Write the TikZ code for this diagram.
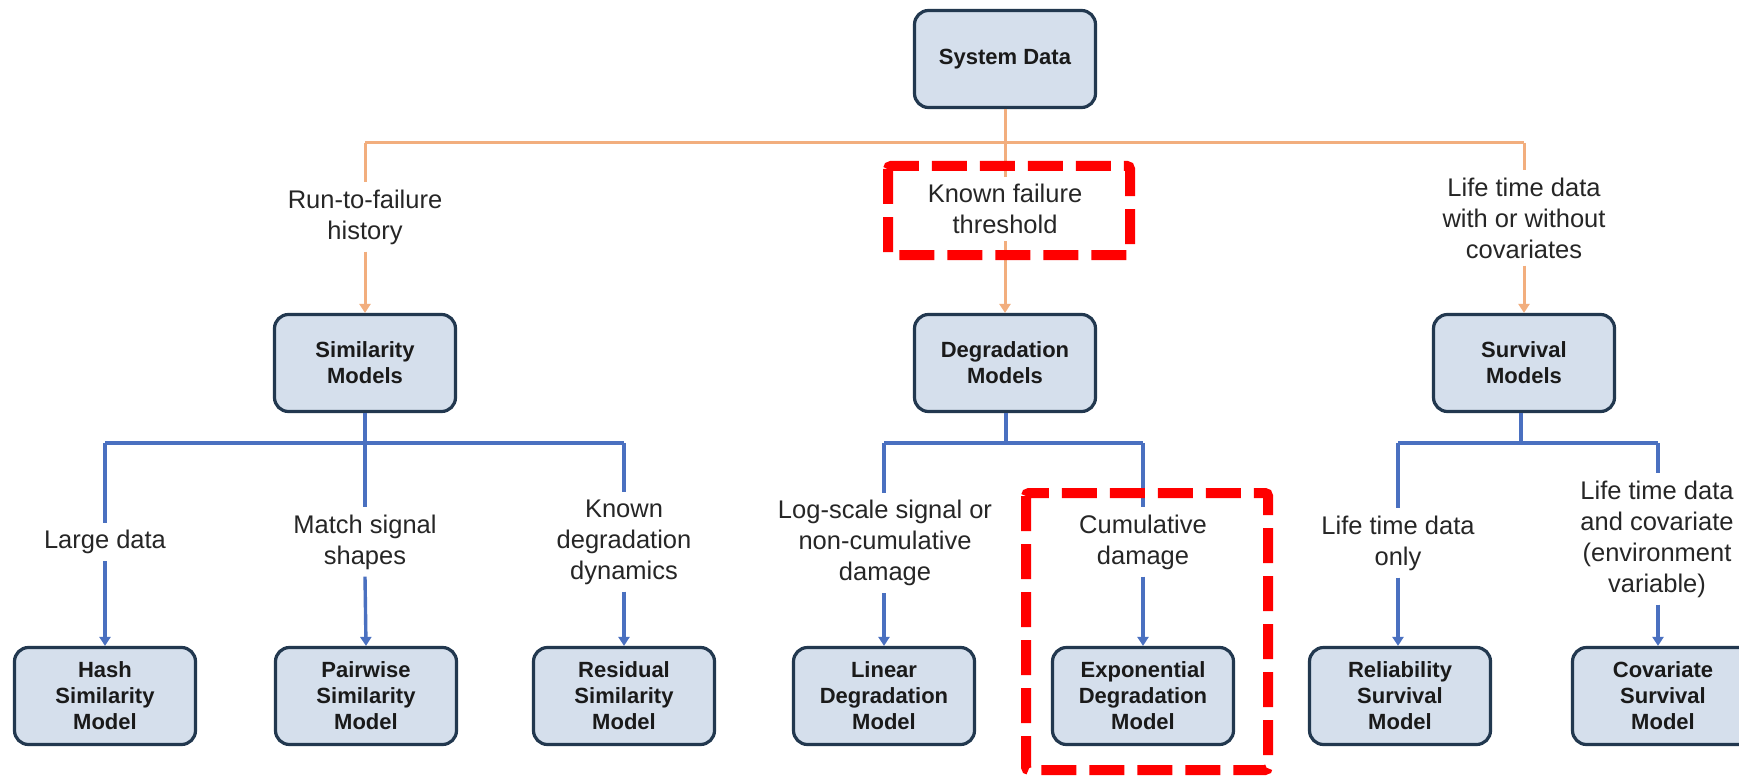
\documentclass[tikz,border=0pt]{standalone}
\usepackage{fontspec}
\setmainfont{Liberation Sans}
\usetikzlibrary{arrows.meta}

\definecolor{boxfill}{HTML}{D5DFEC}
\definecolor{boxedge}{HTML}{22384F}
\definecolor{boxtext}{HTML}{1A1A1A}
\definecolor{lbltext}{HTML}{262626}
\definecolor{orangeline}{HTML}{F2AE7E}
\definecolor{blueline}{HTML}{4A70C0}
\definecolor{markred}{HTML}{FF0000}

\tikzset{
  modelbox/.style={draw=boxedge, line width=3.2pt, fill=boxfill, rounded corners=14pt,
    minimum width=181pt, minimum height=97pt, align=center, text=boxtext,
    font=\bfseries\fontsize{22}{26}\selectfont, inner sep=2pt},
  cond/.style={fill=white, align=center, text=lbltext,
    font=\fontsize{25.5}{31}\selectfont, inner sep=7pt},
  otree/.style={draw=orangeline, line width=3pt},
  btree/.style={draw=blueline, line width=3.4pt},
  tipped/.style={-{Triangle[width=11pt,length=9pt]}},
  highlight/.style={draw=markred, line width=10pt, dash pattern=on 35pt off 13pt,
    rounded corners=3pt}
}

\begin{document}
\begin{tikzpicture}[x=1pt,y=-1pt]
\useasboundingbox (0,0) rectangle (1739,778);
\clip (0,0) rectangle (1739,778);
\fill[white] (0,0) rectangle (1739,778);

% root
\node[modelbox] (sys) at (1005,59) {System Data};

% first split (orange)
\node[cond] (runfail) at (365,217) {Run-to-failure\\history};
\node[cond] (thresh) at (1005,209) {Known failure\\threshold};
\node[cond] (lifecov) at (1524,218) {Life time data\\with or without\\covariates};

\node[modelbox] (sim) at (365,363) {Similarity\\Models};
\node[modelbox] (deg) at (1005,363) {Degradation\\Models};
\node[modelbox] (surv) at (1524,363) {Survival\\Models};

\coordinate (oL) at (365,143);
\coordinate (oR) at (1524,143);

\draw[otree] (oL) -- (oR);
\draw[otree] (sys.south) -- (thresh.north);
\draw[otree] (oL) -- (runfail.north);
\draw[otree] (oR) -- (lifecov.north);
\draw[otree, tipped] (runfail.south) -- (sim.north);
\draw[otree, tipped] (thresh.south) -- (deg.north);
\draw[otree, tipped] (lifecov.south) -- (surv.north);

% similarity branch
\node[cond] (large) at (105,542) {Large data};
\node[cond] (match) at (365,542) {Match signal\\shapes};
\node[cond] (dyn) at (624,542) {Known\\degradation\\dynamics};
\node[modelbox] (hash) at (105,696) {Hash\\Similarity\\Model};
\node[modelbox] (pair) at (366,696) {Pairwise\\Similarity\\Model};
\node[modelbox] (resid) at (624,696) {Residual\\Similarity\\Model};

\coordinate (sL) at (105,443);
\coordinate (sM) at (365,443);
\coordinate (sR) at (624,443);
\draw[btree] (sL) -- (sR);
\draw[btree] (sim.south) -- (sM) -- (match.north);
\draw[btree] (sL) -- (large.north);
\draw[btree] (sR) -- (dyn.north);
\draw[btree, tipped] (large.south) -- (hash.north);
\draw[btree, tipped] (match.south) -- (pair.north);
\draw[btree, tipped] (dyn.south) -- (resid.north);

% degradation branch
\node[cond] (logsc) at (885,543) {Log-scale signal or\\non-cumulative\\damage};
\node[cond] (cumul) at (1143,542) {Cumulative\\damage};
\node[modelbox] (lin) at (884,696) {Linear\\Degradation\\Model};
\node[modelbox] (expo) at (1143,696) {Exponential\\Degradation\\Model};

\coordinate (dL) at (884,443);
\coordinate (dM) at (1006,443);
\coordinate (dR) at (1143,443);
\draw[btree] (dL) -- (dR);
\draw[btree] (deg.south -| dM) -- (dM);
\draw[btree] (dL) -- (logsc.north -| dL);
\draw[btree] (dR) -- (cumul.north);
\draw[btree, tipped] (logsc.south -| dL) -- (lin.north);
\draw[btree, tipped] (cumul.south) -- (expo.north);

% survival branch
\node[cond] (lonly) at (1398,543) {Life time data\\only};
\node[cond] (lcov) at (1657,539) {Life time data\\and covariate\\(environment\\variable)};
\node[modelbox] (rel) at (1400,696) {Reliability\\Survival\\Model};
\node[modelbox] (cov) at (1663,696) {Covariate\\Survival\\Model};

\coordinate (vL) at (1398,443);
\coordinate (vM) at (1521,443);
\coordinate (vR) at (1658,443);
\draw[btree] (vL) -- (vR);
\draw[btree] (surv.south -| vM) -- (vM);
\draw[btree] (vL) -- (lonly.north -| vL);
\draw[btree] (vR) -- (lcov.north -| vR);
\draw[btree, tipped] (lonly.south -| vL) -- (rel.north -| vL);
\draw[btree, tipped] (lcov.south -| vR) -- (cov.north -| vR);

% red dashed highlight frames
\draw[highlight] (888,166) rectangle (1130,255);
\draw[highlight] (1026,493) rectangle (1268,770);
\end{tikzpicture}
\end{document}
